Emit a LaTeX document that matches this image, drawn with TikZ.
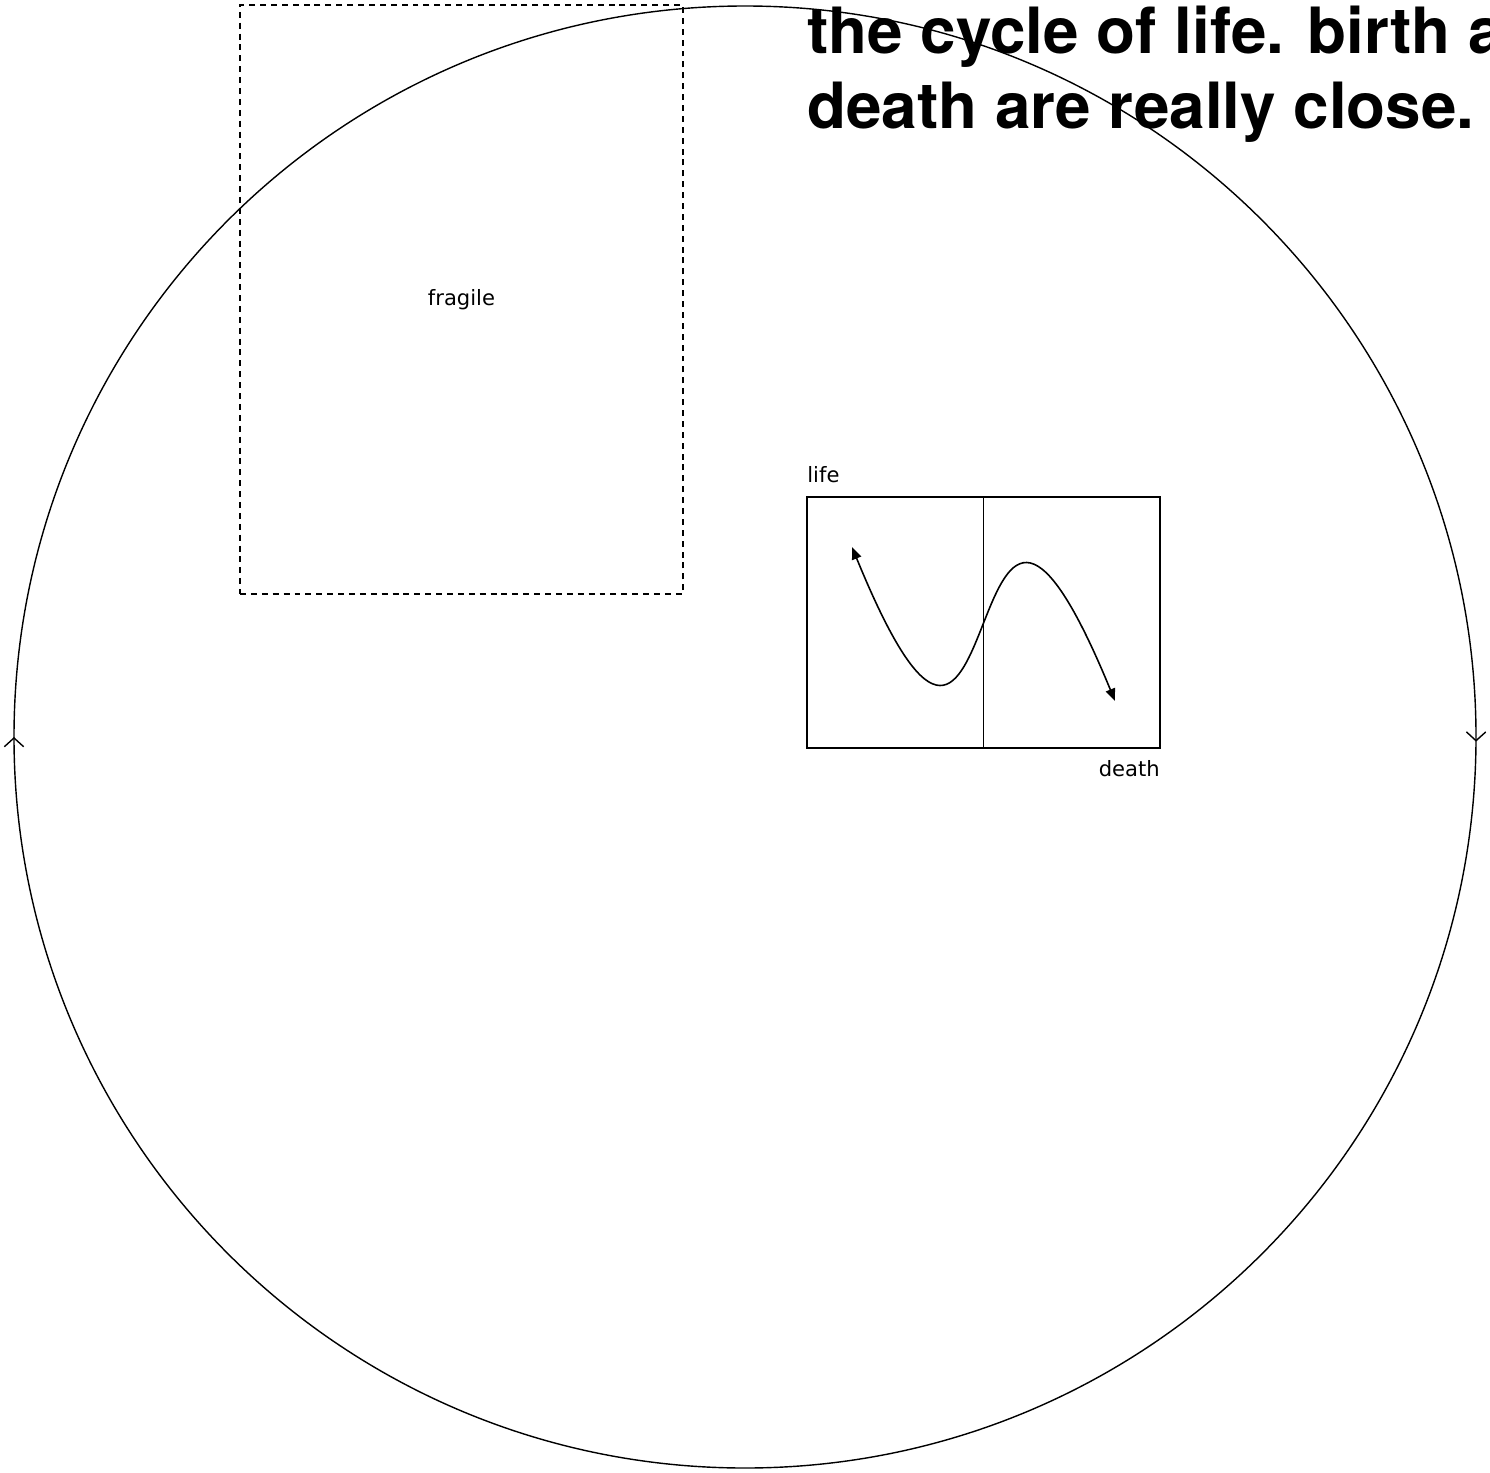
\documentclass[tikz,border=0pt]{standalone}
\usepackage{fontspec}
\usepackage{tikz}
\usetikzlibrary{arrows.meta, positioning, decorations.markings}
\newfontfamily\headfont{TeX Gyre Heros}
\newfontfamily\labelfont{DejaVu Sans}
\tikzset{
  frame/.style={draw=black, line width=0.9pt, inner sep=0pt},
  dashbox/.style={draw=black, line width=0.8pt, dash pattern=on 3.4pt off 2.8pt,
    minimum width=8.86cm, minimum height=11.78cm, inner sep=0pt,
    font=\labelfont\fontsize{12}{14}\selectfont},
  smalltext/.style={inner sep=0pt, font=\labelfont\fontsize{12}{14}\selectfont},
  headline/.style={inner sep=0pt, align=left,
    font=\headfont\bfseries\fontsize{36.3}{43.1}\selectfont},
  cycle/.style={line width=0.8pt,
    decoration={markings,
      mark=at position 0.001 with {\arrow{Straight Barb[length=5pt, width=11pt]}},
      mark=at position 0.5 with {\arrow{Straight Barb[length=5pt, width=11pt]}}},
    postaction={decorate}},
  lifecurve/.style={{Triangle[length=7pt, width=5.5pt]}-{Triangle[length=7pt, width=5.5pt]}, line width=0.9pt}
}
\begin{document}
\begin{tikzpicture}[x=0.02cm, y=-0.02cm]
  \useasboundingbox (0,0) rectangle (1490,1473);

  % the big cycle
  \draw[cycle] (745,737) circle[radius=731];

  % fragile box
  \node[dashbox] (fragile) at (461.5,299.5) {fragile};

  % heading (runs past the right edge)
  \node[headline, anchor=base west] (title) at (807,129)
    {the cycle of life. birth and\\death are really close.};

  % chart
  \node[frame, minimum width=7.06cm, minimum height=5.02cm] (chart) at (983.5,622.5) {};
  \draw[line width=0.9pt] (chart.north) -- (chart.south);
  \node[smalltext, anchor=base west] (life) at (807,482) {life};
  \node[smalltext, anchor=base east] (death) at (1160,776) {death};

  % curve
  \coordinate (c0) at (852,547);
  \coordinate (c1) at (1115,701);
  \draw[lifecurve] (c0) .. controls (1012,938) and (954,310) .. (c1);
\end{tikzpicture}
\end{document}
